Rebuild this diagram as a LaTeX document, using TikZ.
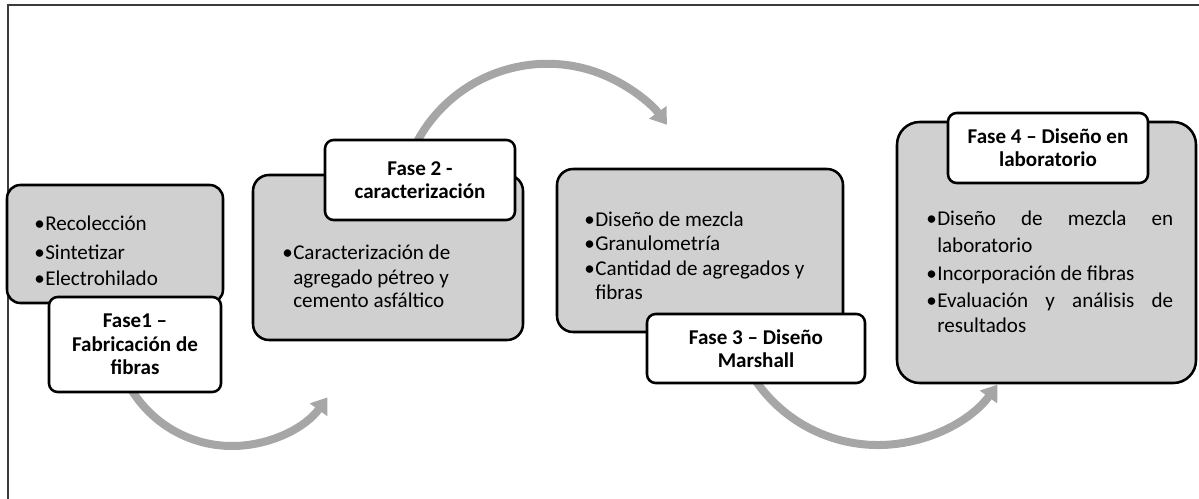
\documentclass[tikz,border=0pt]{standalone}
\usepackage{fontspec}
\setmainfont{Carlito}
\usetikzlibrary{arrows.meta}
\definecolor{boxgray}{HTML}{D0D0D0}
\definecolor{arrgray}{HTML}{A6A6A6}
\definecolor{framegray}{HTML}{3C3C3C}
\newcommand\bodyfont{\fontsize{15.8}{18.5}\selectfont}
\newcommand\labfont{\fontsize{15.8}{17.5}\selectfont\bfseries}
\newcommand\bul{\llap{•\hspace{0.3pt}}}
\tikzset{
  graybox/.style={draw=black, fill=boxgray, line width=1.9pt, rounded corners=#1, inner sep=0pt},
  graybox/.default=12pt,
  labelbox/.style={draw=black, fill=white, line width=1.9pt, rounded corners=6.5pt, inner sep=0pt, align=center, font=\labfont},
  txt/.style={anchor=base west, inner sep=0pt, font=\bodyfont},
  flow/.style={draw=arrgray, line width=6pt, -{Triangle[width=15.5pt,length=11.5pt]}},
}
\begin{document}
\begin{tikzpicture}[x=0.75pt,y=-0.75pt]
\useasboundingbox (0,0) rectangle (1199,499);
% frame
\draw[framegray, line width=1.6pt] (8,499) -- (8,5) -- (1199,5);
% arc arrows
\coordinate (c1) at (232,328);
\coordinate (c2) at (547.3,211.6);
\coordinate (c3) at (878,296.5);
\draw[flow] (c1) ++(210:88.5pt) arc[start angle=210, end angle=324, radius=88.5pt];
\draw[flow] (c2) ++(155:110.85pt) arc[start angle=155, end angle=36, radius=110.85pt];
\draw[flow] (c3) ++(212:111.4pt) arc[start angle=212, end angle=323.6, radius=111.4pt];
% gray boxes
\node[graybox=10pt, minimum width=216*0.75pt, minimum height=118*0.75pt] (b1) at (115,244) {};
\node[graybox=12pt, minimum width=270*0.75pt, minimum height=165*0.75pt] (b2) at (388,257.5) {};
\node[graybox=12pt, minimum width=286*0.75pt, minimum height=163*0.75pt] (b3) at (700,250.5) {};
\node[graybox=17pt, minimum width=299*0.75pt, minimum height=261*0.75pt] (b4) at (1046.5,252.5) {};
% labels
\node[labelbox, minimum width=172*0.75pt, minimum height=95*0.75pt] (l1) at (135,344.5) {Fase1 –\\Fabricación de\\fibras};
\node[labelbox, minimum width=190*0.75pt, minimum height=80*0.75pt] (l2) at (420,180) {Fase 2 -\\caracterización};
\node[labelbox, minimum width=218*0.75pt, minimum height=69*0.75pt] (l3) at (756,348.5) {Fase 3 – Diseño\\Marshall};
\node[labelbox, minimum width=200*0.75pt, minimum height=70*0.75pt] (l4) at (1048,148) {Fase 4 – Diseño en\\laboratorio};
% box 1 text
\node[txt] (t1a) at (45,230) {\bul Recolección};
\node[txt] (t1b) at (45,259) {\bul Sintetizar};
\node[txt] (t1c) at (45,285) {\bul Electrohilado};
% box 2 text
\node[txt] (t2a) at (293,259) {\bul Caracterización de};
\node[txt] (t2b) at (293,284) {agregado pétreo y};
\node[txt] (t2c) at (293,307) {cemento asfáltico};
% box 3 text
\node[txt] (t3a) at (595,226) {\bul Diseño de mezcla};
\node[txt] (t3b) at (595,250) {\bul Granulometría};
\node[txt] (t3c) at (595,275) {\bul Cantidad de agregados y};
\node[txt] (t3d) at (595,299) {fibras};
% box 4 text
\node[txt] (t4a) at (937,225) {\bul\makebox[177pt][s]{Diseño de mezcla en}};
\node[txt] (t4b) at (937,252) {laboratorio};
\node[txt] (t4c) at (937,280) {\bul Incorporación de fibras};
\node[txt] (t4d) at (937,307) {\bul\makebox[177pt][s]{Evaluación y análisis de}};
\node[txt] (t4e) at (937,332) {resultados};
\end{tikzpicture}
\end{document}
